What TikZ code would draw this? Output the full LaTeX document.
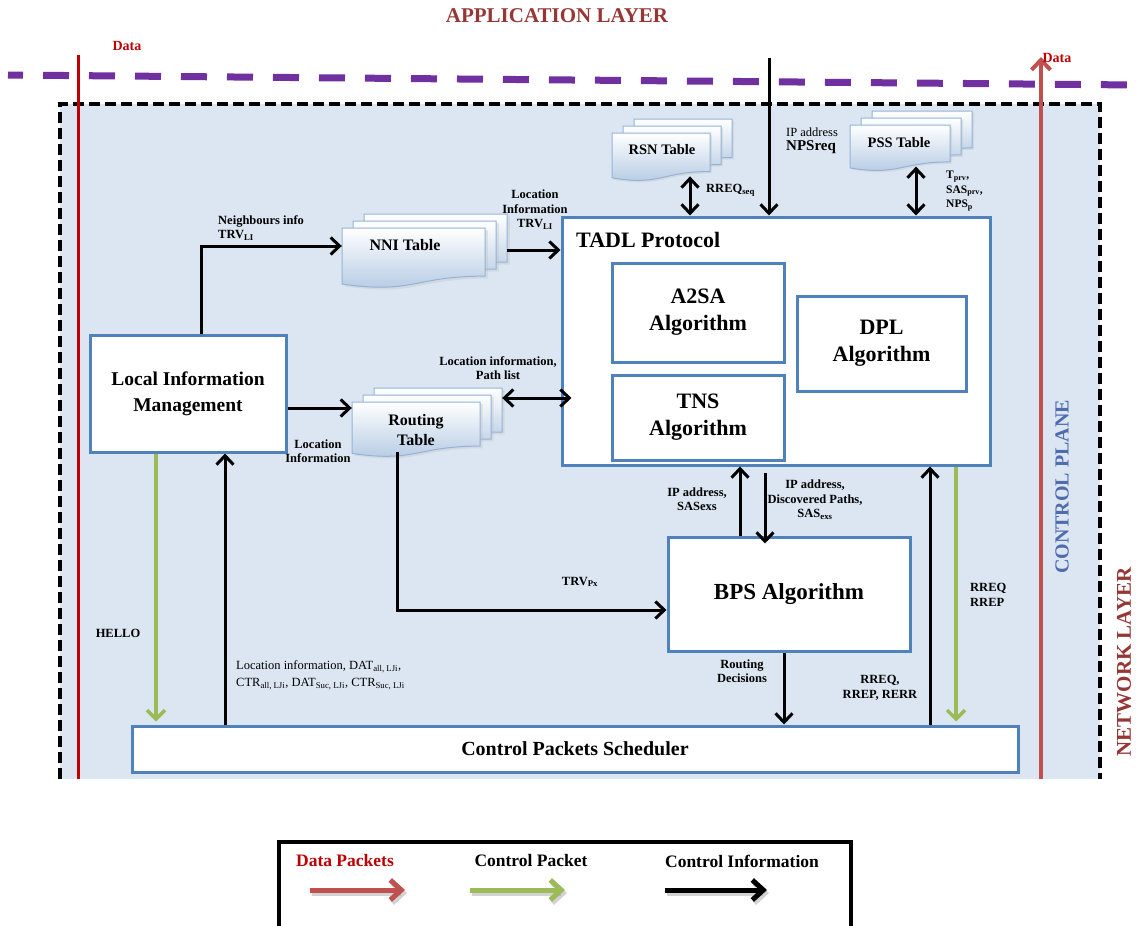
\documentclass[tikz,border=0pt]{standalone}
\usepackage{fontspec}
\setmainfont{Liberation Serif}
\usetikzlibrary{arrows.meta,calc}

\definecolor{boxblue}{HTML}{4F81BD}
\definecolor{planefill}{HTML}{DCE6F2}
\definecolor{layerred}{HTML}{953735}
\definecolor{datared}{HTML}{C00000}
\definecolor{dataarrow}{HTML}{C0504D}
\definecolor{ctrlgreen}{HTML}{9BBB59}
\definecolor{layerpurple}{HTML}{7030A0}
\definecolor{planeblue}{HTML}{4F6DAE}
\definecolor{docedge}{HTML}{95B3D7}
\definecolor{docbottom}{HTML}{B0C7E2}

\newcommand{\fs}[2]{\fontsize{#1}{#2}\selectfont}

% stacked document symbol: #1 name, #2 x, #3 y (front top-left), #4 width, #5 height
\newcommand{\multidoc}[5]{%
  \begin{scope}[shift={(#2,#3)}]
    \foreach \k in {2,1,0}{%
      \begin{scope}[shift={(11*\k,-7*\k)}, xscale=#4, yscale=#5]
        \path[docshadow] (0.02,0.04) -- (1.02,0.04) -- (1.02,0.842)
          .. controls (0.52,0.842) and (0.52,1.147) .. (0.02,0.974) -- cycle;
        \path[docshape] (0,0) -- (1,0) -- (1,0.802)
          .. controls (0.5,0.802) and (0.5,1.107) .. (0,0.934) -- cycle;
      \end{scope}}
    \node[docarea, minimum width={(#4+22)*1pt}, minimum height={(0.9*#5+14)*1pt}]
      (#1) at ({(#4+22)/2},{(0.9*#5-14)/2}) {};
  \end{scope}}

\begin{document}
\begin{tikzpicture}[x=1pt,y=-1pt,
  bluebox/.style={draw=boxblue, line width=3pt, fill=white, align=center,
    inner sep=0pt, font=\bfseries\fs{22}{27}},
  docshape/.style={top color=white, bottom color=docbottom, draw=docedge, line width=1pt},
  docshadow/.style={fill=black!25, opacity=0.35},
  docarea/.style={draw=none, inner sep=0pt},
  doclabel/.style={inner sep=0pt, align=center, font=\bfseries\fs{16}{20}},
  lbl/.style={inner sep=0pt, align=center, font=\bfseries\fs{12.5}{14.5}},
  ctl/.style={line width=3pt, -{Straight Barb[length=9pt,width=17pt]}},
  ctlboth/.style={line width=3pt, {Straight Barb[length=9pt,width=17pt]}-{Straight Barb[length=9pt,width=17pt]}},
  pkt/.style={draw=ctrlgreen, line width=3.5pt, -{Straight Barb[length=9pt,width=18pt]}},
  frame/.style={line width=4pt, dash pattern=on 11pt off 5pt},
  legarrow/.style={line width=5pt, -{Straight Barb[length=11pt,width=20pt]}},
  legshadow/.style={legarrow, draw=black!35, opacity=0.5}
]
\useasboundingbox (0,0) rectangle (1136,926);
\clip (0,0) rectangle (1136,926);
\fill[white] (0,0) rectangle (1136,926);

% control plane area
\fill[planefill] (60,104) rectangle (1100,779);
\draw[frame] (60,779) -- (60,104) -- (1100,104) -- (1100,779);

% boundary between application and network layer
\draw[layerpurple, line width=7pt, dash pattern=on 26pt off 20pt, dash phase=11pt] (8,75) -- (1136,85);

% layer and plane titles
\node[font=\bfseries\fs{21}{24}, text=layerred, inner sep=0pt] (applayer) at (557,16) {APPLICATION LAYER};
\node[font=\bfseries\fs{20}{24}, text=planeblue, rotate=90, inner sep=0pt] (cplane) at (1062,487) {CONTROL PLANE};
\node[font=\bfseries\fs{21}{24}, text=layerred, rotate=90, inner sep=0pt] (netlayer) at (1124,662) {NETWORK LAYER};

% data paths
\coordinate (din1) at (78,55);
\coordinate (din2) at (78,779);
\draw[datared, line width=3pt] (din1) -- (din2);
\node[font=\bfseries\fs{14}{16}, text=datared, inner sep=0pt] (data1) at (127,46) {Data};
\coordinate (dout1) at (1041,779);
\coordinate (dout2) at (1041,57);
\draw[draw=dataarrow, line width=4pt, -{Straight Barb[length=10pt,width=19pt]}] (dout1) -- (dout2);
\node[font=\bfseries\fs{14}{16}, text=datared, inner sep=0pt] (data2) at (1057,58) {Data};

% tables
\multidoc{nni}{342}{228}{143}{60}
\node[doclabel] (nnitxt) at (405,245) {NNI Table};
\multidoc{rsn}{612}{133}{98}{48}
\node[doclabel, font=\bfseries\fs{14.5}{17}] (rsntxt) at (662,150) {RSN Table};
\multidoc{pss}{850}{125}{100}{46}
\node[doclabel, font=\bfseries\fs{14.5}{17}] (psstxt) at (899,143) {PSS Table};
\multidoc{rt}{352}{402}{128}{55}
\node[doclabel] (rttxt) at (416,430) {Routing\\Table};

% functional blocks
\node[bluebox, font=\bfseries\fs{19.5}{26}, minimum width=196pt, minimum height=117pt] (lim) at (188,393.5) {Local Information\\Management};
\node[bluebox, minimum width=428pt, minimum height=248pt] (tadl) at (776,341) {};
\node[font=\bfseries\fs{22}{26}, anchor=west, inner sep=0pt] (tadltitle) at (576,240) {TADL Protocol};
\node[bluebox, minimum width=172pt, minimum height=99pt] (a2sa) at (698,312.5) {A2SA\\Algorithm};
\node[bluebox, minimum width=172pt, minimum height=85pt] (tns) at (698,417.5) {TNS\\Algorithm};
\node[bluebox, minimum width=169pt, minimum height=95pt] (dpl) at (881.5,343.5) {DPL\\Algorithm};
\node[bluebox, font=\bfseries\fs{23}{27}, minimum width=242pt, minimum height=114pt] (bps) at (789,594) {BPS Algorithm};
\node[bluebox, font=\bfseries\fs{20}{24}, minimum width=886pt, minimum height=46pt] (cps) at (575,749) {Control Packets Scheduler};

% control information flows
\draw[ctl] (201,0 |- lim.north) |- (nni.west |- 0,246);
\node[lbl, anchor=west, align=left] (lneigh) at (218,228) {Neighbours info\\TRV\textsubscript{LI}};
\draw[ctl] (nni.east |- 0,250) -- (tadl.west |- 0,250);
\node[lbl] (lloc1) at (535,210) {Location\\Information\\TRV\textsubscript{LI}};
\draw[ctl] (lim.east |- 0,408) -- (rt.west |- 0,408);
\node[lbl] (lloc2) at (318,451) {Location\\Information};
\draw[ctlboth] (rt.east |- 0,398) -- ($(tadl.west |- 0,398)+(11,0)$);
\node[lbl] (lpath) at (498,368) {Location information,\\Path list};
\draw[ctlboth] (690,0 |- rsn.south) -- (690,0 |- tadl.north);
\node[lbl, anchor=west] (lrreq) at (706,190) {RREQ\textsubscript{seq}};
\coordinate (appin) at (769,58);
\draw[ctl] (appin) -- (appin |- tadl.north);
\node[inner sep=0pt, anchor=west, align=left] (lnps) at (786,141) {{\fs{12.5}{15}IP address}\\[2pt]{\bfseries\fs{15}{18}NPSreq}};
\draw[ctlboth] (916,0 |- pss.south) -- (916,0 |- tadl.north);
\node[lbl, anchor=west, align=left, font=\bfseries\fs{11.5}{14.5}] (lpss) at (946,191) {T\textsubscript{prv},\\SAS\textsubscript{prv},\\NPS\textsubscript{p}};
\draw[ctl] (740,0 |- bps.north) -- (740,0 |- tadl.south);
\node[lbl] (lsasexs) at (697,499) {IP address,\\SASexs};
\draw[ctl, shorten <=6pt] (765,0 |- tadl.south) -- ($(765,0 |- bps.north)+(0,8)$);
\node[lbl] (ldisc) at (815,500) {IP address,\\Discovered Paths,\\SAS\textsubscript{exs}};
\draw[ctl] (397,0 |- rt.south) |- (bps.west |- 0,610);
\node[lbl] (ltrv) at (580,582) {TRV\textsubscript{Px}};
\draw[ctl] (784,0 |- bps.south) -- (784,0 |- cps.north);
\node[lbl] (lroutdec) at (742,671) {Routing\\Decisions};
\draw[ctl] (930,0 |- cps.north) -- (930,0 |- tadl.south);
\node[lbl] (lrerr) at (880,688) {RREQ,\\RREP, RERR};
\draw[ctl] (225,0 |- cps.north) -- (225,0 |- lim.south);
\node[inner sep=0pt, anchor=west, align=left, font=\fs{12.5}{17}] (ldat) at (236,675)
  {Location information, DAT\textsubscript{all, LJi},\\CTR\textsubscript{all, LJi}, DAT\textsubscript{Suc, LJi}, CTR\textsubscript{Suc, LJi}};

% control packets
\draw[pkt, shorten >=3pt] (156,0 |- lim.south) -- (156,0 |- cps.north);
\node[lbl] (lhello) at (118,633) {HELLO};
\draw[pkt, shorten >=3pt] (956,0 |- tadl.south) -- (956,0 |- cps.north);
\node[lbl, anchor=west, align=left] (lrreqrrep) at (970,595) {RREQ\\RREP};

% legend
\node[draw, line width=3.5pt, minimum width=572pt, minimum height=110pt, anchor=north west, inner sep=0pt] (legend) at (277,840) {};
\node[font=\bfseries\fs{17.5}{20}, text=datared, inner sep=0pt] (legdata) at (345,861) {Data Packets};
\node[font=\bfseries\fs{17.5}{20}, inner sep=0pt] (legpkt) at (531,861) {Control Packet};
\node[font=\bfseries\fs{17.5}{20}, inner sep=0pt] (leginfo) at (742,861) {Control Information};
\coordinate (la1) at (310,890); \coordinate (la2) at (405,890);
\coordinate (lb1) at (470,890); \coordinate (lb2) at (565,890);
\coordinate (lc1) at (665,890); \coordinate (lc2) at (767,890);
\draw[legshadow] ($(la1)+(2,3)$) -- ($(la2)+(2,3)$);
\draw[legshadow] ($(lb1)+(2,3)$) -- ($(lb2)+(2,3)$);
\draw[legshadow] ($(lc1)+(2,3)$) -- ($(lc2)+(2,3)$);
\draw[legarrow, draw=dataarrow] (la1) -- (la2);
\draw[legarrow, draw=ctrlgreen] (lb1) -- (lb2);
\draw[legarrow, draw=black] (lc1) -- (lc2);
\end{tikzpicture}
\end{document}
